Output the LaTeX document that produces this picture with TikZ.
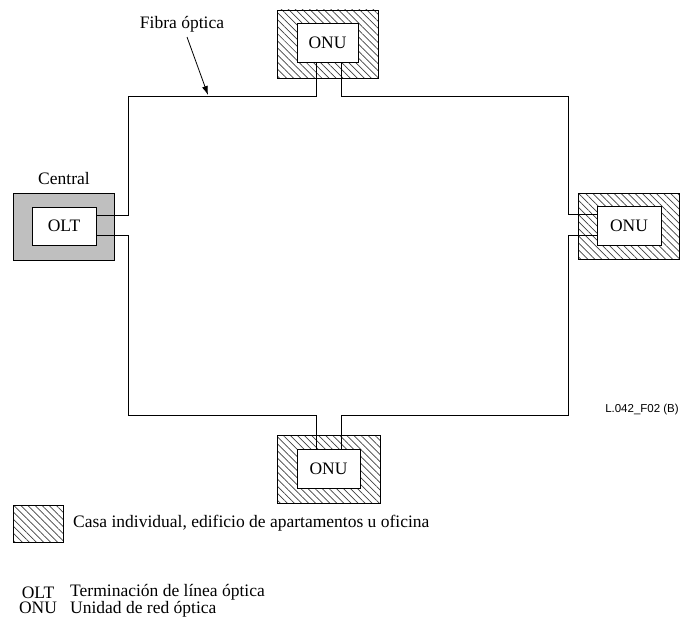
\documentclass[tikz,border=0pt]{standalone}
\usepackage{fontspec}
\setmainfont{Liberation Serif}
\setsansfont{Liberation Sans}
\usetikzlibrary{patterns.meta,arrows.meta}
\tikzset{
  house/.style={draw, line width=0.8pt, inner sep=0pt,
    pattern={Lines[angle=-45, distance=5pt, line width=0.7pt]}, pattern color=black!75},
  central/.style={draw, line width=0.8pt, fill=black!25, inner sep=0pt},
  unit/.style={draw, line width=0.8pt, fill=white, inner sep=0pt,
    minimum width=63pt, minimum height=39pt, font=\fontsize{17.5}{20}\selectfont},
  fibre/.style={line width=1pt},
  label/.style={inner sep=0pt, font=\fontsize{17.5}{20}\selectfont},
  keylist/.style={inner sep=0pt, font=\fontsize{17.5}{15}\selectfont},
}
\begin{document}
\begin{tikzpicture}[x=1pt, y=-1pt]
\useasboundingbox (0,0) rectangle (685,626);

% premises around each network unit
\node[house, minimum width=101pt, minimum height=68pt] (h1) at (328,44) {};
\node[house, minimum width=101pt, minimum height=66pt] (h2) at (628.5,226) {};
\node[house, minimum width=103pt, minimum height=68pt] (h3) at (328.5,469) {};
\node[central, minimum width=101pt, minimum height=67pt] (co) at (64,226.5) {};

% terminals
\node[unit, minimum width=61pt] (onu1) at (327.5,42.5) {ONU};
\node[unit, minimum width=64pt] (onu2) at (629,225.5) {ONU};
\node[unit, minimum width=63pt] (onu3) at (328.5,468.5) {ONU};
\node[unit, minimum width=64pt, minimum height=38pt] (olt) at (64,226) {OLT};

\node[label, anchor=south] (central) at (co.north) [yshift=8pt] {Central};

% ring of fibre
\draw[fibre] ([yshift=11pt]olt.east) -| (128,96) -| ([xshift=-11.5pt]onu1.south);
\draw[fibre] ([xshift=13.5pt]onu1.south) |- (568,96) |- ([yshift=11.5pt]onu2.west);
\draw[fibre] ([yshift=-9.5pt]onu2.west) -| (568,415) -| ([xshift=12.5pt]onu3.north);
\draw[fibre] ([xshift=-12.5pt]onu3.north) |- (128,415) |- ([yshift=-9pt]olt.east);

% fibre label
\node[label] (fibra) at (182,24) {Fibra óptica};
\coordinate (tip) at (208,95);
\draw[line width=0.8pt, -{Latex[length=9pt, width=6pt]}] (187,37) -- (tip);

% drawing reference
\node[inner sep=0pt, font=\sffamily\fontsize{11.5}{13}\selectfont] (ref) at (642,410) {L.042\_F02 (B)};

% key
\node[house, minimum width=50pt, minimum height=37pt] (key) at (38,523.5) {};
\node[label, anchor=west] (keytext) at (73,523) {Casa individual, edificio de apartamentos u oficina};
\node[keylist, align=center] (abbr) at (38,600.5) {OLT\\ONU};
\node[keylist, align=left, anchor=west] (defs) at (70,600.5) {Terminación de línea óptica\\Unidad de red óptica};
\end{tikzpicture}
\end{document}
